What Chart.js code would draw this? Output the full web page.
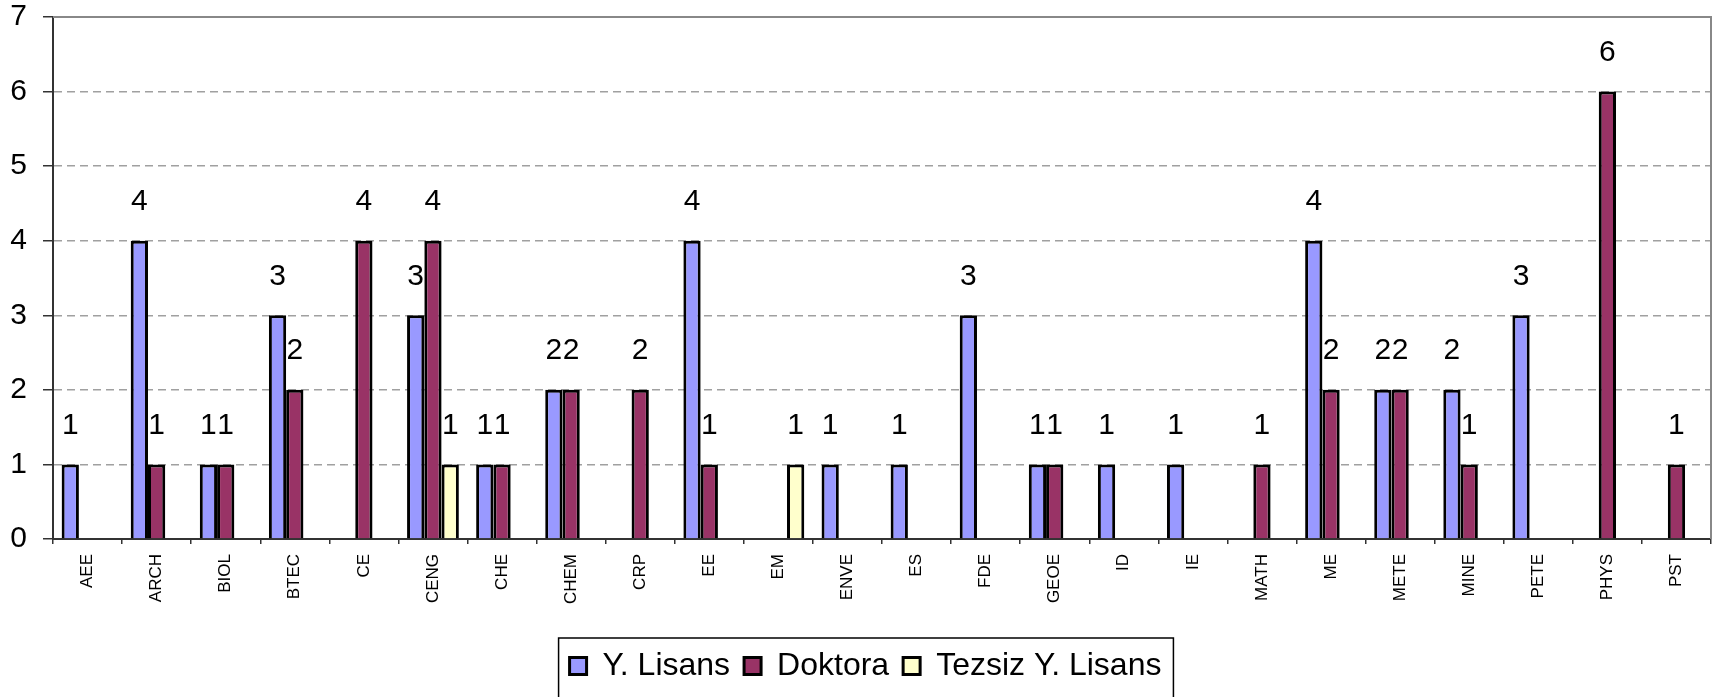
<!DOCTYPE html>
<html>
<head>
<meta charset="utf-8">
<script src="https://cdn.jsdelivr.net/npm/chart.js@4/dist/chart.umd.min.js"></script>
<style>
  html, body { margin: 0; padding: 0; background: #fff; }
  canvas { display: block; }
</style>
</head>
<body>
<canvas id="chart" width="1714" height="697"></canvas>
<script>
// departments on the x axis
const categories = ['AEE', 'ARCH', 'BIOL', 'BTEC', 'CE', 'CENG', 'CHE', 'CHEM', 'CRP', 'EE', 'EM', 'ENVE',
  'ES', 'FDE', 'GEOE', 'ID', 'IE', 'MATH', 'ME', 'METE', 'MINE', 'PETE', 'PHYS', 'PST'];

// counts per programme (null = no bar)
const yLisans = [1, 4, 1, 3, null, 3, 1, 2, null, 4, null, 1, 1, 3, 1, 1, 1, null, 4, 2, 2, 3, null, null];
const doktora = [null, 1, 1, 2, 4, 4, 1, 2, 2, 1, null, null, null, null, 1, null, null, 1, 2, 2, 1, null, 6, 1];
const tezsiz = [null, null, null, null, null, 1, null, null, null, null, 1, null, null, null, null, null, null, null, null, null, null, null, null, null];

const yTicks = [0, 1, 2, 3, 4, 5, 6, 7];

const FONT = "'Liberation Sans', Arial, sans-serif";

// value labels above every bar
const valueLabels = {
  id: 'valueLabels',
  afterDatasetsDraw(chart) {
    const ctx = chart.ctx;
    ctx.save();
    ctx.font = '30px ' + FONT;
    ctx.fillStyle = '#000';
    ctx.textAlign = 'center';
    ctx.textBaseline = 'middle';
    chart.data.datasets.forEach(function(ds, i) {
      const meta = chart.getDatasetMeta(i);
      meta.data.forEach(function(bar, j) {
        const v = ds.data[j];
        if (v === null || v === undefined) return;
        ctx.fillText(String(v), bar.x, bar.y - 39);
      });
    });
    ctx.restore();
  }
};

// grey top/right frame of the plot and the box round the legend
const frame = {
  id: 'frame',
  afterLayout(chart) {
    chart.legend.left += 10;
    chart.legend.right += 10;
  },
  afterDraw(chart) {
    const ctx = chart.ctx;
    const a = chart.chartArea;
    ctx.save();
    ctx.strokeStyle = '#888';
    ctx.lineWidth = 2;
    ctx.beginPath();
    ctx.moveTo(a.left, a.top);
    ctx.lineTo(a.right, a.top);
    ctx.lineTo(a.right, a.bottom);
    ctx.stroke();

    const boxes = chart.legend.legendHitBoxes;
    if (boxes && boxes.length) {
      const first = boxes[0];
      const last = boxes[boxes.length - 1];
      ctx.strokeStyle = '#000';
      ctx.lineWidth = 1.5;
      const l = first.left - 11;
      const r = last.left + last.width + 12;
      const t = first.top - 12;
      ctx.beginPath();
      ctx.moveTo(l, chart.height + 5);
      ctx.lineTo(l, t);
      ctx.lineTo(r, t);
      ctx.lineTo(r, chart.height + 5);
      ctx.stroke();
    }
    ctx.restore();
  }
};

new Chart(document.getElementById('chart'), {
  type: 'bar',
  data: {
    labels: categories,
    datasets: [{
      label: 'Y. Lisans',
      data: yLisans,
      backgroundColor: '#9999FF',
      borderColor: '#000',
      borderWidth: 3
    }, {
      label: 'Doktora',
      data: doktora,
      backgroundColor: '#993366',
      borderColor: '#000',
      borderWidth: 3
    }, {
      label: 'Tezsiz Y. Lisans',
      data: tezsiz,
      backgroundColor: '#FFFFCC',
      borderColor: '#000',
      borderWidth: 3
    }]
  },
  options: {
    responsive: false,
    animation: false,
    events: [],
    layout: { padding: { top: 17, right: 3, left: 0, bottom: 5 } },
    datasets: {
      bar: { categoryPercentage: 0.75, barPercentage: 1.0 }
    },
    scales: {
      x: {
        afterFit(scale) { scale.height = 97; },
        grid: {
          offset: true,
          drawOnChartArea: false,
          tickLength: 5,
          color: '#333',
          lineWidth: 1.5
        },
        border: { color: '#333', width: 2 },
        ticks: {
          autoSkip: false,
          maxRotation: 90,
          minRotation: 90,
          padding: 10,
          color: '#000',
          font: { family: FONT, size: 17 }
        }
      },
      y: {
        min: 0,
        max: 7,
        afterFit(scale) {
          scale.width = 53;
          scale.paddingTop = 0;
          scale.paddingBottom = 0;
        },
        afterBuildTicks(scale) {
          scale.ticks = yTicks.map(function(v) { return { value: v }; });
        },
        grid: {
          color: '#a0a0a0',
          lineWidth: 1.5,
          tickLength: 10,
          tickColor: '#333',
          tickWidth: 1.5
        },
        border: { color: '#333', width: 2, dash: [8, 5] },
        ticks: {
          stepSize: 1,
          padding: 16,
          color: '#000',
          font: { family: FONT, size: 30 }
        }
      }
    },
    plugins: {
      tooltip: { enabled: false },
      legend: {
        position: 'bottom',
        labels: {
          boxWidth: 17,
          boxHeight: 17,
          padding: 14,
          color: '#000',
          font: { family: FONT, size: 32 }
        }
      }
    }
  },
  plugins: [valueLabels, frame]
});
</script>
</body>
</html>
